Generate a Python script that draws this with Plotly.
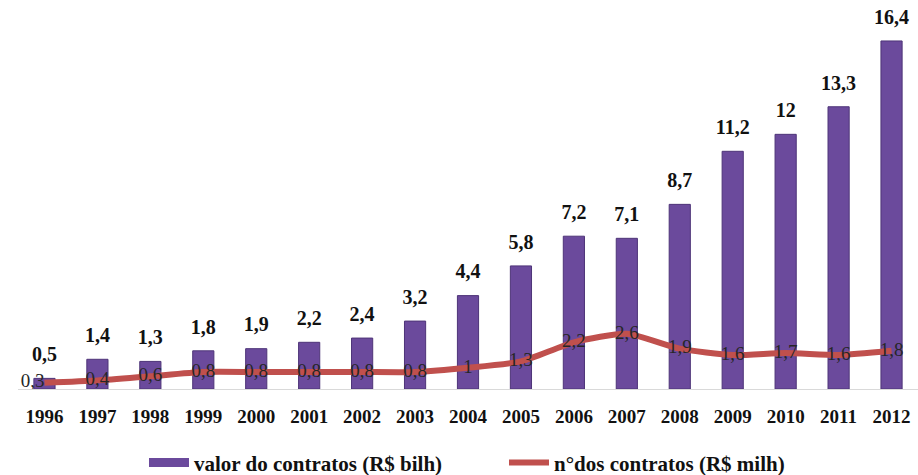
import plotly.graph_objects as go

years = ["1996", "1997", "1998", "1999", "2000", "2001", "2002", "2003", "2004",
         "2005", "2006", "2007", "2008", "2009", "2010", "2011", "2012"]
valor = [0.5, 1.4, 1.3, 1.8, 1.9, 2.2, 2.4, 3.2, 4.4, 5.8, 7.2, 7.1, 8.7, 11.2, 12, 13.3, 16.4]
numero = [0.3, 0.4, 0.6, 0.8, 0.8, 0.8, 0.8, 0.8, 1, 1.3, 2.2, 2.6, 1.9, 1.6, 1.7, 1.6, 1.8]
series_names = ["valor do contratos (R$ bilh)", "n°dos contratos (R$ milh)"]

def fmt(v):
    return ("%g" % v).replace(".", ",")

serif = "Liberation Serif"
purple = "#6B4A9C"

fig = go.Figure()
fig.add_trace(go.Bar(
    x=years, y=valor, name=series_names[0], showlegend=False,
    width=0.4,
    marker=dict(color=purple, line=dict(color="#4E3478", width=1)),
))
# legend entry for bars (wide rectangle like the reference)
fig.add_trace(go.Scatter(
    x=[None], y=[None], mode="lines", name=series_names[0],
    line=dict(color=purple, width=9),
))
# bar value labels
fig.add_trace(go.Scatter(
    x=years, y=valor, mode="markers+text", showlegend=False, hoverinfo="skip",
    text=["<b>" + fmt(v) + "</b>" for v in valor], textposition="top center",
    marker=dict(size=18, color="rgba(0,0,0,0)"),
    textfont=dict(family=serif, size=20, color="#111111"),
    cliponaxis=False,
))
fig.add_trace(go.Scatter(
    x=years, y=numero, name=series_names[1], mode="lines+text",
    line=dict(color="#C0504D", width=6, shape="spline", smoothing=0.6),
    text=[fmt(v) for v in numero],
    textposition=["middle left"] + ["middle center"] * (len(numero) - 1),
    textfont=dict(family=serif, size=19, color="#262626"),
    cliponaxis=False,
))

fig.update_layout(
    width=918, height=475,
    margin=dict(l=18, r=0, t=0, b=86, autoexpand=False),
    plot_bgcolor="white", paper_bgcolor="white",
    font=dict(family=serif),
    xaxis=dict(type="category", range=[-0.5, 16.5], showgrid=False, showline=True,
               linecolor="#D9D9D9", linewidth=1, ticks="outside", ticklen=10,
               tickcolor="rgba(0,0,0,0)",
               tickprefix="<b>", ticksuffix="</b>",
               tickfont=dict(family=serif, size=19, color="#111111")),
    yaxis=dict(range=[0, 18.33], visible=False, showgrid=False, zeroline=False),
    legend=dict(orientation="h", x=0.14, xanchor="left", y=-0.19, yanchor="middle",
                font=dict(family=serif, size=21, color="#111111"),
                itemwidth=40, traceorder="normal", tracegroupgap=0,
                entrywidth=305, entrywidthmode="pixels",
                bgcolor="rgba(0,0,0,0)"),
    showlegend=True,
)
fig.for_each_trace(lambda t: t.update(name="<b>" + t.name + "</b>") if t.name else None)
fig.write_html("out.html")
